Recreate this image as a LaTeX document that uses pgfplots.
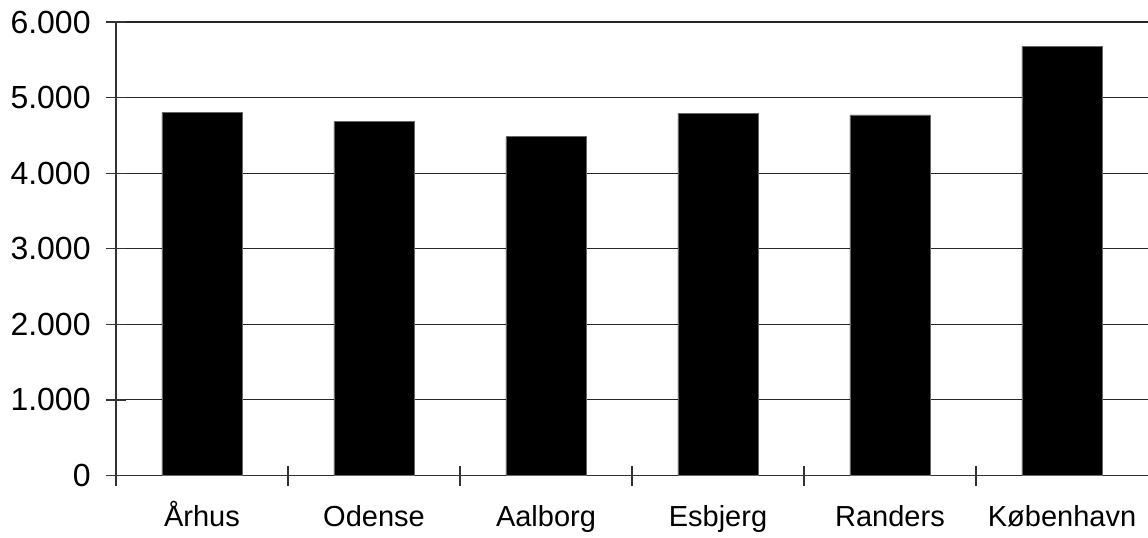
\documentclass[border=0pt]{standalone}
\usepackage{fontspec}
\setmainfont{Liberation Sans}
\usepackage{pgfplots}
\pgfplotsset{compat=1.18}
\begin{document}
\begin{tikzpicture}
\begin{axis}[
  at={(0,0)}, anchor=south west,
  scale only axis,
  width=516pt, height=226.75pt,
  xmin=-0.5, xmax=5.5, ymin=0, ymax=6000,
  axis lines*=left,
  axis line style={black!80, line width=0.6pt},
  ybar, bar width=40pt,
  xtick={-0.5,0.5,...,4.5}, xticklabels={},
  extra x ticks={0,1,2,3,4,5},
  extra x tick labels={Århus,Odense,Aalborg,Esbjerg,Randers,København},
  extra x tick style={major tick length=0pt,
    xticklabel style={font=\fontsize{14.5pt}{16pt}\selectfont, anchor=base, inner sep=0pt, yshift=-25.5pt}},
  ytick={0,1000,...,6000},
  scaled y ticks=false,
  yticklabel style={font=\fontsize{16pt}{18pt}\selectfont, anchor=east, inner sep=0pt, xshift=-7.5pt,
    /pgf/number format/1000 sep={.}, /pgf/number format/assume math mode=true},
  ymajorgrids, grid style={black!85, line width=0.55pt},
  tick align=center, major tick length=10pt,
  tick style={black!80, line width=0.6pt},
  clip=false,
]
\addplot[fill=black, draw=black!60, line width=0.4pt] coordinates {
  (0,4800) (1,4680) (2,4480) (3,4790) (4,4770) (5,5680)
};
\end{axis}
\pgfresetboundingbox
\path[use as bounding box] (-58pt,-30.75pt) rectangle (516pt,237.75pt);
\end{tikzpicture}
\end{document}
